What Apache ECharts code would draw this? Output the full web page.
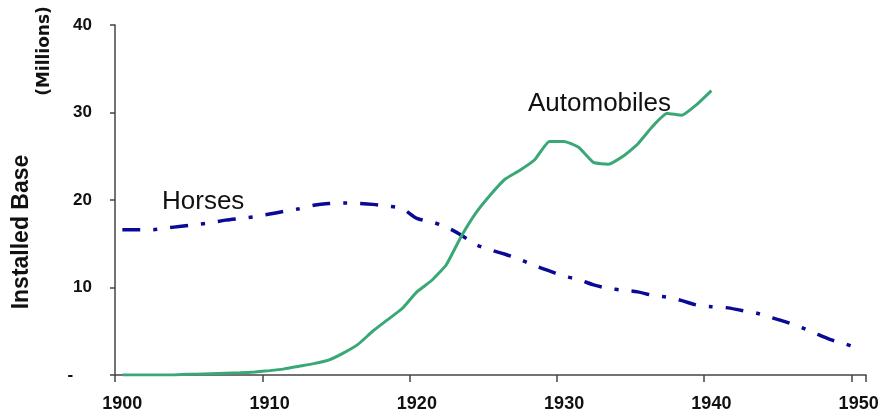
<!DOCTYPE html>
<html>
<head>
<meta charset="utf-8">
<script src="https://cdn.jsdelivr.net/npm/echarts@6/dist/echarts.min.js"></script>
<style>
  html, body { margin: 0; padding: 0; background: #fff; }
  #main { width: 883px; height: 418px; }
</style>
</head>
<body>
<div id="main"></div>
<script>
var years = [];
for (var y = 1900; y <= 1950; y++) years.push(String(y));

var horses = [16.6, 16.6, 16.6, 16.8, 17.0, 17.2, 17.4, 17.7, 17.9, 18.1,
              18.4, 18.7, 19.0, 19.4, 19.6, 19.65, 19.6, 19.5, 19.3, 19.0,
              17.9, 17.5, 16.9, 16.0, 14.9, 14.3, 13.8, 13.2, 12.5, 11.9,
              11.3, 10.9, 10.3, 9.9, 9.7, 9.5, 9.1, 8.9, 8.5, 8.0,
              7.8, 7.7, 7.4, 7.1, 6.6, 6.1, 5.5, 4.8, 4.1, 3.6, 3.0];

var automobiles = [0.0, 0.0, 0.0, 0.0, 0.05, 0.1, 0.15, 0.2, 0.25, 0.35,
                   0.5, 0.7, 1.0, 1.3, 1.7, 2.5, 3.5, 5.0, 6.3, 7.6,
                   9.5, 10.8, 12.6, 15.8, 18.5, 20.6, 22.4, 23.4, 24.6, 26.7,
                   26.7, 26.0, 24.3, 24.1, 25.0, 26.4, 28.4, 29.9, 29.7, 30.9, 32.5];

var yTicks = [0, 10, 20, 30, 40];

var fontFamily = '"Liberation Sans", Arial, sans-serif';

var myChart = echarts.init(document.getElementById('main'));

var option = {
    animation: false,
    grid: {
        left: 115,
        right: 17,
        top: 25,
        bottom: 43
    },
    xAxis: {
        type: 'category',
        data: years,
        boundaryGap: true,
        axisLine: { show: true, lineStyle: { color: '#444', width: 1.5 } },
        axisTick: {
            show: true,
            alignWithLabel: false,
            interval: 9,
            length: 7,
            lineStyle: { color: '#444', width: 1.5 }
        },
        axisLabel: {
            interval: 9,
            margin: 20,
            color: '#111',
            fontSize: 18,
            fontWeight: 'bold',
            fontFamily: fontFamily
        },
        splitLine: { show: false }
    },
    yAxis: {
        type: 'value',
        min: yTicks[0],
        max: yTicks[yTicks.length - 1],
        interval: 10,
        axisLine: { show: true, lineStyle: { color: '#444', width: 1.5 } },
        axisTick: { show: true, length: 5, lineStyle: { color: '#444', width: 1.5 } },
        axisLabel: {
            margin: 23,
            color: '#111',
            fontSize: 17,
            fontWeight: 'bold',
            fontFamily: fontFamily,
            formatter: function (v) { return v === 0 ? '-    ' : String(v); }
        },
        splitLine: { show: false }
    },
    graphic: [
        {
            type: 'text', x: 22, y: 232, rotation: Math.PI / 2,
            style: {
                text: 'Installed Base', fill: '#111',
                font: 'bold 23px ' + fontFamily,
                align: 'center', verticalAlign: 'middle'
            }
        },
        {
            type: 'text', x: 45, y: 51, rotation: Math.PI / 2,
            style: {
                text: '(Millions)', fill: '#111',
                font: 'bold 17px "DejaVu Sans", sans-serif',
                align: 'center', verticalAlign: 'middle'
            }
        },
        {
            type: 'text', x: 162, y: 202,
            style: {
                text: 'Horses', fill: '#111',
                font: '26px ' + fontFamily,
                align: 'left', verticalAlign: 'middle'
            }
        },
        {
            type: 'text', x: 528, y: 104,
            style: {
                text: 'Automobiles', fill: '#111',
                font: '26px ' + fontFamily,
                align: 'left', verticalAlign: 'middle'
            }
        }
    ],
    series: [
        {
            name: 'Horses',
            type: 'line',
            data: horses,
            smooth: 0.3,
            showSymbol: false,
            lineStyle: {
                color: '#0a0a96',
                width: 3.5,
                type: [18, 13, 4, 13],
                cap: 'butt'
            }
        },
        {
            name: 'Automobiles',
            type: 'line',
            data: automobiles,
            smooth: 0.15,
            showSymbol: false,
            lineStyle: {
                color: '#3aa876',
                width: 3
            }
        }
    ]
};

myChart.setOption(option);

window.onresize = function () {
    myChart.resize();
};
</script>
</body>
</html>
